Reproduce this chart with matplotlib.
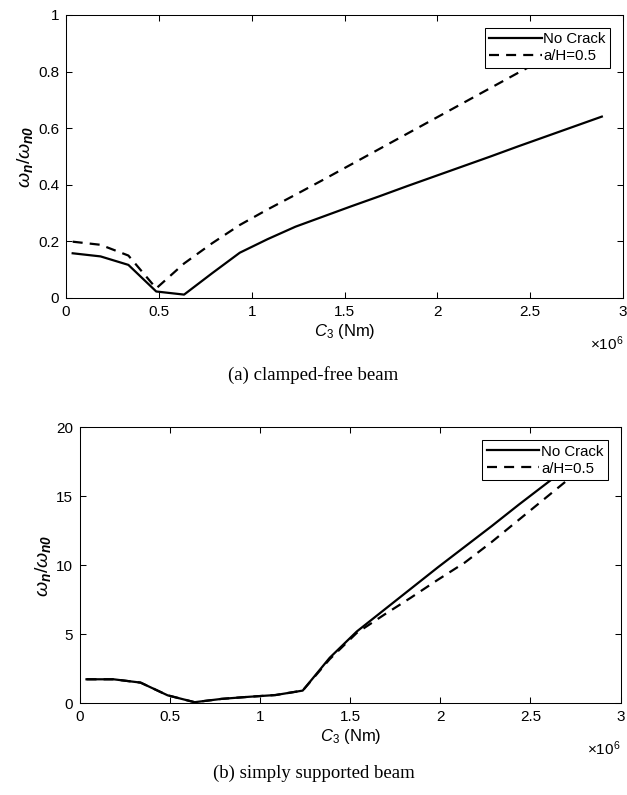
import matplotlib
matplotlib.use("Agg")
import matplotlib.pyplot as plt
from matplotlib.ticker import FuncFormatter
import numpy as np

plt.rcParams['font.family'] = ['Liberation Sans', 'DejaVu Sans']
plt.rcParams['mathtext.fontset'] = 'custom'
plt.rcParams['mathtext.rm'] = 'Liberation Sans'
plt.rcParams['mathtext.it'] = 'Liberation Sans:italic'
plt.rcParams['mathtext.bf'] = 'Liberation Sans:bold'
plt.rcParams['mathtext.bfit'] = 'Liberation Sans:bold:italic'

#%% data (C3 in units of 1e6 Nm)
c3_e6 = [0.036, 0.186, 0.336, 0.486, 0.636, 0.786, 0.936, 1.086, 1.236, 1.386,
         1.536, 1.686, 1.836, 1.986, 2.136, 2.286, 2.436, 2.586, 2.736, 2.886]

# (a) clamped-free beam
cf_nocrack = [0.158, 0.147, 0.117, 0.023, 0.012, 0.087, 0.160, 0.208, 0.252, 0.288,
              0.324, 0.359, 0.395, 0.430, 0.465, 0.500, 0.536, 0.571, 0.606, 0.641]
cf_crack = [0.199, 0.188, 0.150, 0.034, 0.122, 0.193, 0.258, 0.313, 0.365, 0.418,
            0.472, 0.526, 0.580, 0.634, 0.688, 0.742, 0.796, 0.848, 0.900, 0.950]

# (b) simply supported beam
ss_nocrack = [1.74, 1.74, 1.50, 0.58, 0.08, 0.32, 0.47, 0.60, 0.92, 3.30,
              5.20, 6.75, 8.30, 9.85, 11.35, 12.85, 14.40, 15.90, 17.40, 18.90]
ss_crack = [1.74, 1.74, 1.50, 0.58, 0.08, 0.32, 0.47, 0.60, 0.92, 3.20,
            5.10, 6.40, 7.65, 8.95, 10.20, 11.70, 13.30, 14.90, 16.50, 18.10]

legend_labels = ['No Crack', 'a/H=0.5']
captions = ['(a) clamped-free beam', '(b) simply supported beam']
ylabel = r'$\omega_{\mathbfit{n}}/\omega_{\mathbfit{n0}}$'
xlabel = r'$\mathit{C}_{\mathit{3}}$ (Nm)'

W, H = 627, 795
fig = plt.figure(figsize=(W / 100, H / 100), dpi=100)

ax1 = fig.add_axes([66 / W, 1 - 298 / H, 557 / W, 283 / H])
ax2 = fig.add_axes([80 / W, 1 - 703.3 / H, 540.5 / W, 276 / H])

fmt = FuncFormatter(lambda v, p: '%g' % v)

panels = [(ax1, cf_nocrack, cf_crack, 1, np.arange(0, 1.01, 0.2)),
          (ax2, ss_nocrack, ss_crack, 20, np.arange(0, 21, 5))]

for ax, y1, y2, ymax, yt in panels:
    ax.plot(c3_e6, y1, color='black', lw=1.6, label=legend_labels[0])
    ax.plot(c3_e6, y2, color='black', lw=1.6, dashes=(4.5, 3.2), label=legend_labels[1])
    ax.set_xlim(0, 3)
    ax.set_ylim(0, ymax)
    ax.set_xticks(np.arange(0, 3.01, 0.5))
    ax.set_yticks(yt)
    ax.xaxis.set_major_formatter(fmt)
    ax.yaxis.set_major_formatter(fmt)
    ax.tick_params(direction='in', length=4, width=0.75, top=True, right=True,
                   labelsize=11, pad=5)
    for s in ax.spines.values():
        s.set_linewidth(0.75)
    ax.set_xlabel(xlabel, fontsize=12, labelpad=2)
    ax.set_ylabel(ylabel, fontsize=14, labelpad=2)
    ax.text(1.0, -0.13, r'$\times10^{6}$', transform=ax.transAxes,
            ha='right', va='top', fontsize=11)
    leg = ax.legend(loc='upper right', fontsize=10.8, frameon=True, fancybox=False,
                    edgecolor='black', framealpha=1, borderaxespad=0.85,
                    handlelength=3.5, handletextpad=0.1, borderpad=0.3,
                    labelspacing=0.2)
    leg.get_frame().set_linewidth(0.75)

fig.text(0.5, 1 - 375 / H, captions[0], ha='center', va='center',
         fontsize=13.5, family='Liberation Serif')
fig.text(0.5, 1 - 773 / H, captions[1], ha='center', va='center',
         fontsize=13.5, family='Liberation Serif')

fig.savefig('out.png', dpi=100)
